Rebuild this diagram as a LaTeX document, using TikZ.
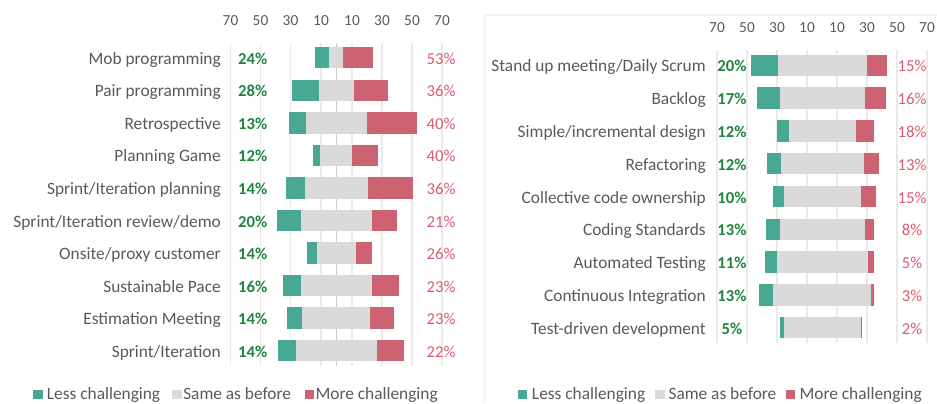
\documentclass[tikz,border=0pt]{standalone}
\usepackage{fontspec}
\setmainfont{Carlito}
\usepackage{xcolor}
\usetikzlibrary{positioning}

\definecolor{lessc}{RGB}{72,168,148}
\definecolor{samec}{RGB}{218,218,218}
\definecolor{morec}{RGB}{205,98,115}
\definecolor{lesstxt}{RGB}{32,132,62}
\definecolor{moretxt}{RGB}{214,94,112}
\definecolor{labeltxt}{RGB}{89,89,89}
\definecolor{gridc}{RGB}{234,234,234}
\definecolor{framec}{RGB}{244,244,244}

\begin{document}
\begin{tikzpicture}[
    x=0.75pt, y=-0.75pt,
    rowlabel/.style={anchor=base east, inner sep=0pt, text=labeltxt, font=\fontsize{13}{15}\selectfont},
    lesspct/.style={anchor=base, inner sep=0pt, text=lesstxt, font=\fontsize{12.5}{15}\selectfont\bfseries},
    morepct/.style={anchor=base, inner sep=0pt, text=moretxt, font=\fontsize{12.5}{15}\selectfont},
    axislabel/.style={inner sep=0pt, text=labeltxt, font=\fontsize{11.5}{14}\selectfont},
    grid/.style={draw=gridc, line width=0.9pt},
    legbox/.style={rectangle, minimum size=7pt, inner sep=0pt},
    legtext/.style={anchor=base west, inner sep=0pt, text=labeltxt, font=\fontsize{13}{15}\selectfont}
]
    \useasboundingbox (0,0) rectangle (937,403);

    % left chart: grid and axis
    \foreach \gx/\tick [count=\k] in {230.5/70, 260.5/50, 290.5/30, 321/10, 352/10, 382/30, 412/50, 442/70} {
        \draw[grid] (\gx,43) -- (\gx,366);
        \node[axislabel] (ltick\k) at (\gx,21) {\tick};
    }
    \draw[draw=gray!40, line width=0.9pt] (336.5,43) -- (336.5,366);

    % left chart: rows
    \foreach \name/\g/\s/\m/\e/\lp/\mp [count=\i] in {
        Mob programming/315.3/329.3/343/372.7/24/53,
        Pair programming/291.7/319/353.7/388/28/36,
        Retrospective/289.3/306/366.7/417.3/13/40,
        Planning Game/312.7/320.3/352.3/377.7/12/40,
        {Sprint/Iteration planning}/286/304.7/368/413.3/14/36,
        {Sprint/Iteration review/demo}/276.7/300.7/371.7/397/20/21,
        {Onsite/proxy customer}/307.3/316.7/356/372.3/14/26,
        Sustainable Pace/282.7/300.7/371.7/398.7/16/23,
        Estimation Meeting/287/302.3/370/394.3/14/23,
        {Sprint/Iteration}/277.7/296/376.7/403.7/14/22} {
        \pgfmathsetmacro{\ry}{57.7+32.56*(\i-1)}
        \fill[lessc] (\g,\ry-10.7) rectangle (\s,\ry+10.7);
        \fill[samec] (\s,\ry-10.7) rectangle (\m,\ry+10.7);
        \fill[morec] (\m,\ry-10.7) rectangle (\e,\ry+10.7);
        \node[rowlabel] (lname\i) at (221,\ry+6.5) {\name};
        \node[lesspct] (lless\i) at (252.7,\ry+6.5) {\lp\%};
        \node[morepct] (lmore\i) at (441,\ry+6.5) {\mp\%};
    }

    % right chart: frame, grid and axis
    \draw[draw=framec, line width=0.8pt] (485,403) -- (485,15) -- (937,15);
    \foreach \gx/\tick [count=\k] in {717/70, 747/50, 777/30, 807/10, 837/10, 867/30, 897/50, 927/70} {
        \draw[grid] (\gx,50) -- (\gx,343);
        \node[axislabel] (rtick\k) at (\gx,28) {\tick};
    }

    % right chart: rows
    \foreach \name/\g/\s/\m/\e/\lp/\mp [count=\i] in {
        {Stand up meeting/Daily Scrum}/751/778/866.7/887.3/20/15,
        Backlog/757.3/779.7/865.3/886/17/16,
        {Simple/incremental design}/776.7/788.7/856.3/874/12/18,
        Refactoring/767/780.7/864.3/879.3/12/13,
        Collective code ownership/773.3/784.3/861/875.7/10/15,
        Coding Standards/766.3/779.7/865.3/874.3/13/8,
        Automated Testing/765/776.7/868.3/874.3/11/5,
        Continuous Integration/758.7/773.3/871.3/874.3/13/3,
        Test-driven development/779.7/784.3/860.7/862.3/5/2} {
        \pgfmathsetmacro{\ry}{65.3+32.8*(\i-1)}
        \fill[lessc] (\g,\ry-10.7) rectangle (\s,\ry+10.7);
        \fill[samec] (\s,\ry-10.7) rectangle (\m,\ry+10.7);
        \fill[morec] (\m,\ry-10.7) rectangle (\e,\ry+10.7);
        \node[rowlabel] (rname\i) at (706,\ry+6.5) {\name};
        \node[lesspct] (rless\i) at (732,\ry+6.5) {\lp\%};
        \node[morepct] (rmore\i) at (912,\ry+6.5) {\mp\%};
    }

    % legends
    \node[legbox, fill=lessc] (lkey1) at (38,394.5) {};
    \node[legtext] (ltext1) at (46.7,399) {Less challenging};
    \node[legbox, fill=samec] (lkey2) at (177,394.5) {};
    \node[legtext] (ltext2) at (183,399) {Same as before};
    \node[legbox, fill=morec] (lkey3) at (309.5,394.5) {};
    \node[legtext] (ltext3) at (315.3,399) {More challenging};

    \node[legbox, fill=lessc] (rkey1) at (522.5,394.5) {};
    \node[legtext] (rtext1) at (531.7,399) {Less challenging};
    \node[legbox, fill=samec] (rkey2) at (660,394.5) {};
    \node[legtext] (rtext2) at (668.3,399) {Same as before};
    \node[legbox, fill=morec] (rkey3) at (790.7,394.5) {};
    \node[legtext] (rtext3) at (799.3,399) {More challenging};
\end{tikzpicture}
\end{document}
